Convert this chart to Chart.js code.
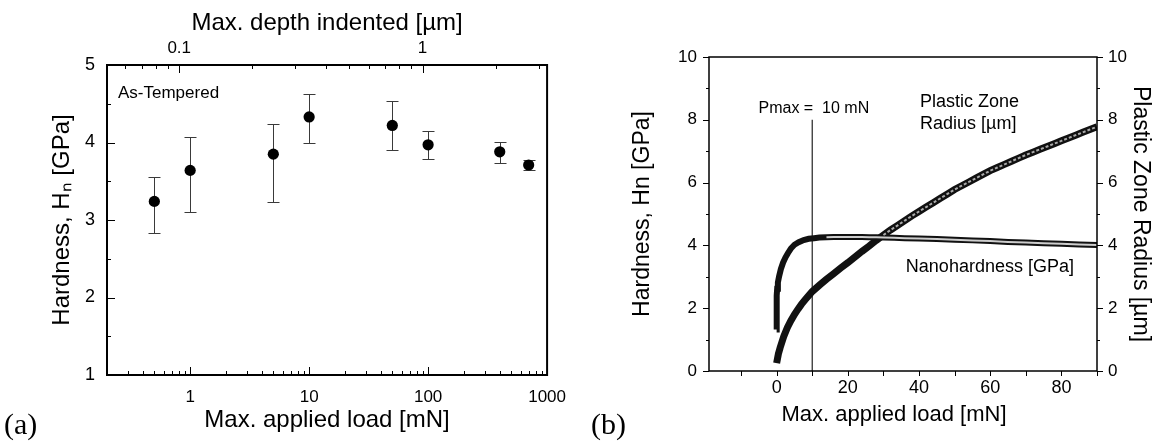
<!DOCTYPE html>
<html><head><meta charset="utf-8">
<script src="https://cdn.jsdelivr.net/npm/chart.js@4.4.1/dist/chart.umd.min.js"></script>
<style>
html,body{margin:0;padding:0;background:#fff;width:1155px;height:443px;overflow:hidden;}
#wrap{position:relative;width:1155px;height:443px;background:#fff;}
canvas{position:absolute;top:0;}
#ca{left:0;} #cb{left:578px;}
.plabel{position:absolute;font-family:"Liberation Serif","Times New Roman",serif;font-size:30px;color:#000;line-height:1;}
</style></head>
<body><div id="wrap">
<canvas id="ca" width="578" height="443"></canvas>
<canvas id="cb" width="577" height="443"></canvas>
<div class="plabel" style="left:4px;top:409px">(a)</div>
<div class="plabel" style="left:591px;top:409px">(b)</div>
</div>
<script>
// ---------- Panel (a) data ----------
const loadA = [0.5, 1, 5, 10, 50, 100, 400, 700];
const hardnessA = [3.24, 3.64, 3.85, 4.33, 4.22, 3.97, 3.88, 3.71];
const hardnessAHigh = [3.56, 4.07, 4.24, 4.62, 4.53, 4.15, 4.01, 3.78];
const hardnessALow = [2.83, 3.10, 3.23, 4.00, 3.90, 3.79, 3.74, 3.65];
const loadTickLabels = [1, 10, 100, 1000];
const depthTickLabels = [0.1, 1];
const hardnessATickLabels = [1, 2, 3, 4, 5];
const loadRangeA = [0.2, 1000];
const depthRangeA = [0.0505, 3.25];

// ---------- Panel (b) data ----------
const loadBH = [0, 0, 0, 0.05, 0.15, 0.35, 0.7, 1.2, 1.8, 2.5, 3.2, 4.0, 5.0, 6.2, 7.6, 9.0, 10.5, 12, 14, 16, 18, 20, 22, 24, 26, 28, 30, 33, 36, 40, 45, 50, 55, 60, 65, 70, 75, 80, 85, 90];
const hardnessB = [1.32, 1.7, 2.1, 2.4, 2.62, 2.82, 3.02, 3.25, 3.45, 3.62, 3.76, 3.9, 4.02, 4.1, 4.17, 4.21, 4.23, 4.25, 4.26, 4.27, 4.27, 4.27, 4.27, 4.27, 4.26, 4.26, 4.25, 4.24, 4.23, 4.22, 4.2, 4.18, 4.16, 4.14, 4.11, 4.09, 4.07, 4.05, 4.03, 4.01];
const loadBR = [0, 0.5, 1, 2, 3, 4, 5, 6, 7, 8, 9, 10, 12, 14, 16, 18, 20, 22, 24, 26, 28, 30, 32, 34, 36, 38, 40, 42, 44, 46, 48, 50, 52, 54, 56, 58, 60, 62, 64, 66, 68, 70, 72, 74, 76, 78, 80, 82, 84, 86, 88, 90];
const radiusB = [0.25, 0.55, 0.75, 1.1, 1.38, 1.6, 1.8, 1.97, 2.13, 2.27, 2.4, 2.53, 2.73, 2.92, 3.1, 3.28, 3.45, 3.63, 3.81, 3.98, 4.16, 4.33, 4.49, 4.64, 4.79, 4.94, 5.08, 5.22, 5.36, 5.5, 5.64, 5.78, 5.9, 6.02, 6.14, 6.26, 6.38, 6.48, 6.58, 6.68, 6.78, 6.88, 6.97, 7.06, 7.15, 7.24, 7.33, 7.42, 7.51, 7.6, 7.69, 7.78];
const pmaxLoad = [10, 10];
const pmaxHardness = [0, 8];
const loadBTickLabels = [0, 20, 40, 60, 80];
const hbTickLabels = [0, 2, 4, 6, 8, 10];
const radiusTickLabels = [0, 2, 4, 6, 8, 10];
const loadRangeB = [-19, 90];

// ---------- helpers ----------
const FONT = '"Liberation Sans", Arial, Helvetica, sans-serif';
Chart.defaults.font.family = FONT;
Chart.defaults.color = '#000';

function hasLabel(list, v) {
  return list.some(l => Math.abs(l - v) < 1e-9 * Math.max(1, Math.abs(l)));
}
function logTicks(min, max) {
  const out = [];
  for (let e = -3; e <= 4; e++) {
    for (let m = 1; m <= 9; m++) {
      const v = +(m * Math.pow(10, e)).toPrecision(6);
      if (v >= min * 0.999 && v <= max * 1.001) out.push({value: v});
    }
  }
  return out;
}
function linTicks(min, max, step) {
  const out = [];
  const start = Math.ceil(min / step) * step;
  for (let v = start; v <= max + 1e-9; v += step) out.push({value: +v.toFixed(6)});
  return out;
}

function makeTickPlugin(spec, boxWidth) {
  return {
    id: 'tickMarks',
    afterDraw(chart) {
      const ctx = chart.ctx;
      const ca = chart.chartArea;
      ctx.save();
      ctx.strokeStyle = '#000';
      for (const id in spec) {
        const s = chart.scales[id];
        const sp = spec[id];
        ctx.lineWidth = sp.width || 1;
        ctx.beginPath();
        for (const t of s.ticks) {
          const major = hasLabel(sp.labels, t.value);
          const len = major ? sp.major : sp.minor;
          const p = Math.round(s.getPixelForValue(t.value)) + 0.5;
          const sign = sp.dir === 'in' ? 1 : -1;
          if (s.position === 'bottom') { ctx.moveTo(p, ca.bottom); ctx.lineTo(p, ca.bottom - sign * len); }
          else if (s.position === 'top') { ctx.moveTo(p, ca.top); ctx.lineTo(p, ca.top + sign * len); }
          else if (s.position === 'left') { ctx.moveTo(ca.left, p); ctx.lineTo(ca.left + sign * len, p); }
          else { ctx.moveTo(ca.right, p); ctx.lineTo(ca.right - sign * len, p); }
        }
        ctx.stroke();
      }
      ctx.lineWidth = boxWidth;
      ctx.strokeRect(ca.left, ca.top, ca.right - ca.left, ca.bottom - ca.top);
      ctx.restore();
    }
  };
}

// ---------- Panel (a) ----------
const errorBarPlugin = {
  id: 'errorBars',
  beforeDatasetsDraw(chart) {
    const ctx = chart.ctx, xs = chart.scales.x, ys = chart.scales.y;
    ctx.save();
    ctx.strokeStyle = '#3a3a3a';
    ctx.lineWidth = 1;
    ctx.beginPath();
    loadA.forEach((l, i) => {
      const x = Math.round(xs.getPixelForValue(l)) + 0.5;
      const yt = Math.round(ys.getPixelForValue(hardnessAHigh[i])) + 0.5;
      const yb = Math.round(ys.getPixelForValue(hardnessALow[i])) + 0.5;
      ctx.moveTo(x, yt); ctx.lineTo(x, yb);
      ctx.moveTo(x - 6, yt); ctx.lineTo(x + 6, yt);
      ctx.moveTo(x - 6, yb); ctx.lineTo(x + 6, yb);
    });
    ctx.stroke();
    ctx.restore();
  }
};
const textAPlugin = {
  id: 'textA',
  afterDraw(chart) {
    const ctx = chart.ctx, ca = chart.chartArea;
    ctx.save();
    ctx.fillStyle = '#000';
    ctx.font = '17px ' + FONT;
    ctx.textBaseline = 'alphabetic';
    ctx.fillText('As-Tempered', ca.left + 11, ca.top + 33);
    ctx.restore();
  }
};

new Chart(document.getElementById('ca'), {
  type: 'scatter',
  data: {
    datasets: [{
      data: loadA.map((l, i) => ({x: l, y: hardnessA[i]})),
      backgroundColor: '#000', borderColor: '#000', borderWidth: 0,
      pointRadius: 5.6, pointHoverRadius: 5.6
    }]
  },
  options: {
    responsive: false, animation: false, devicePixelRatio: 1,
    layout: {padding: {left: 0, right: 26, top: 0, bottom: 0}},
    plugins: {legend: {display: false}, tooltip: {enabled: false}},
    scales: {
      x: {
        type: 'logarithmic', position: 'bottom', min: loadRangeA[0], max: loadRangeA[1],
        grid: {display: false, drawTicks: false}, border: {display: false},
        afterBuildTicks: s => { s.ticks = logTicks(loadRangeA[0], loadRangeA[1]); },
        afterFit: s => { s.height = 68; },
        ticks: {autoSkip: false, maxRotation: 0, padding: 12, font: {size: 17}, color: '#000',
          callback: v => hasLabel(loadTickLabels, v) ? String(v) : ''},
        title: {display: true, text: 'Max. applied load [mN]', font: {size: 24}, color: '#000', padding: {top: 0, bottom: 8}}
      },
      x2: {
        type: 'logarithmic', position: 'top', min: depthRangeA[0], max: depthRangeA[1],
        grid: {display: false, drawTicks: false}, border: {display: false},
        afterBuildTicks: s => { s.ticks = logTicks(depthRangeA[0], depthRangeA[1]); },
        afterFit: s => { s.height = 65; },
        ticks: {autoSkip: false, maxRotation: 0, padding: 6, font: {size: 17}, color: '#000',
          callback: v => hasLabel(depthTickLabels, v) ? String(v) : ''},
        title: {display: true, text: 'Max. depth indented [\u00b5m]', font: {size: 24}, color: '#000', padding: {top: 9, bottom: 0}}
      },
      y: {
        type: 'linear', position: 'left', min: 1, max: 5,
        grid: {display: false, drawTicks: false}, border: {display: false},
        afterFit: s => { s.width = 107; },
        ticks: {stepSize: 0.5, autoSkip: false, padding: 12, font: {size: 18}, color: '#000',
          callback: v => hasLabel(hardnessATickLabels, v) ? String(v) : ''},
        title: {display: true, text: 'Hardness, H\u2099 [GPa]', font: {size: 24}, color: '#000', padding: {top: 48, bottom: 0}}
      }
    }
  },
  plugins: [errorBarPlugin, textAPlugin, makeTickPlugin({
    x: {labels: loadTickLabels, major: 8, minor: 4, dir: 'in'},
    x2: {labels: depthTickLabels, major: 8, minor: 4, dir: 'in'},
    y: {labels: hardnessATickLabels, major: 8, minor: 4, dir: 'in'}
  }, 2)]
});

// ---------- Panel (b) ----------
const textBPlugin = {
  id: 'textB',
  afterDraw(chart) {
    const ctx = chart.ctx, xs = chart.scales.x, ys = chart.scales.y, ca = chart.chartArea;
    ctx.save();
    ctx.fillStyle = '#000';
    ctx.textBaseline = 'alphabetic';
    ctx.font = '16px ' + FONT;
    ctx.fillText('Pmax =  10 mN', xs.getPixelForValue(-5.1), ys.getPixelForValue(8.22));
    ctx.font = '18px ' + FONT;
    ctx.fillText('Plastic Zone', xs.getPixelForValue(40.3), ys.getPixelForValue(8.41));
    ctx.fillText('Radius [\u00b5m]', xs.getPixelForValue(40.3), ys.getPixelForValue(7.71));
    ctx.fillText('Nanohardness [GPa]', xs.getPixelForValue(36.3), ys.getPixelForValue(3.15));
    // x-axis title, centred slightly left of the plot centre as in the original
    ctx.font = '22px ' + FONT;
    ctx.textAlign = 'center';
    ctx.textBaseline = 'middle';
    ctx.fillText('Max. applied load [mN]', (ca.left + ca.right) / 2 - 9, 415);
    ctx.restore();
  }
};

const hPts = loadBH.map((l, i) => ({x: l, y: hardnessB[i]}));
const rPts = loadBR.map((l, i) => ({x: l, y: radiusB[i]}));

new Chart(document.getElementById('cb'), {
  type: 'scatter',
  data: {
    datasets: [
      {data: hPts, yAxisID: 'y', showLine: true, pointRadius: 0, borderWidth: 2, order: 1,
        segment: {borderColor: c => c.p0.parsed.x >= 13 ? 'rgba(205,205,205,1)' : 'rgba(0,0,0,0)'}},
      {data: rPts, yAxisID: 'y2', showLine: true, pointRadius: 0, borderWidth: 2, order: 2, borderDash: [3, 2],
        segment: {borderColor: c => c.p0.parsed.x >= 30 ? 'rgba(170,170,170,1)' : 'rgba(0,0,0,0)'}},
      {data: hPts, yAxisID: 'y', showLine: true, pointRadius: 0, borderWidth: 6, borderColor: '#111', order: 3},
      {data: rPts, yAxisID: 'y2', showLine: true, pointRadius: 0, borderWidth: 7, borderColor: '#111', order: 4},
      {data: pmaxLoad.map((l, i) => ({x: l, y: pmaxHardness[i]})), yAxisID: 'y', showLine: true,
        pointRadius: 0, borderWidth: 1.2, borderColor: '#222', order: 5}
    ]
  },
  options: {
    responsive: false, animation: false, devicePixelRatio: 1,
    layout: {padding: {left: 0, right: 0, top: 57, bottom: 0}},
    plugins: {legend: {display: false}, tooltip: {enabled: false}},
    scales: {
      x: {
        type: 'linear', position: 'bottom', min: loadRangeB[0], max: loadRangeB[1],
        grid: {display: false, drawTicks: false}, border: {display: false},
        afterBuildTicks: s => { s.ticks = linTicks(-10, loadRangeB[1], 10); },
        afterFit: s => { s.height = 72; },
        ticks: {autoSkip: false, maxRotation: 0, padding: 6, font: {size: 18}, color: '#000',
          callback: v => hasLabel(loadBTickLabels, v) ? String(v) : ''},
        title: {display: false}
      },
      y: {
        type: 'linear', position: 'left', min: 0, max: 10,
        grid: {display: false, drawTicks: false}, border: {display: false},
        afterFit: s => { s.width = 131; },
        ticks: {stepSize: 1, autoSkip: false, padding: 12, font: {size: 17}, color: '#000',
          callback: v => hasLabel(hbTickLabels, v) ? String(v) : ''},
        title: {display: true, text: 'Hardness, Hn [GPa]', font: {size: 23}, color: '#000', padding: {top: 51, bottom: 0}}
      },
      y2: {
        type: 'linear', position: 'right', min: 0, max: 10,
        grid: {display: false, drawTicks: false}, border: {display: false},
        afterFit: s => { s.width = 58; },
        ticks: {stepSize: 1, autoSkip: false, padding: 11, font: {size: 17}, color: '#000',
          callback: v => hasLabel(radiusTickLabels, v) ? String(v) : ''},
        title: {display: true, text: 'Plastic Zone Radius [\u00b5m]', font: {size: 23}, color: '#000', padding: {top: 1, bottom: 0}}
      }
    }
  },
  plugins: [textBPlugin, makeTickPlugin({
    x: {labels: loadBTickLabels, major: 5, minor: 5, dir: 'out'},
    y: {labels: hbTickLabels, major: 6, minor: 3, dir: 'out'},
    y2: {labels: radiusTickLabels, major: 6, minor: 3, dir: 'out'}
  }, 1.5)]
});
</script>
</body></html>
